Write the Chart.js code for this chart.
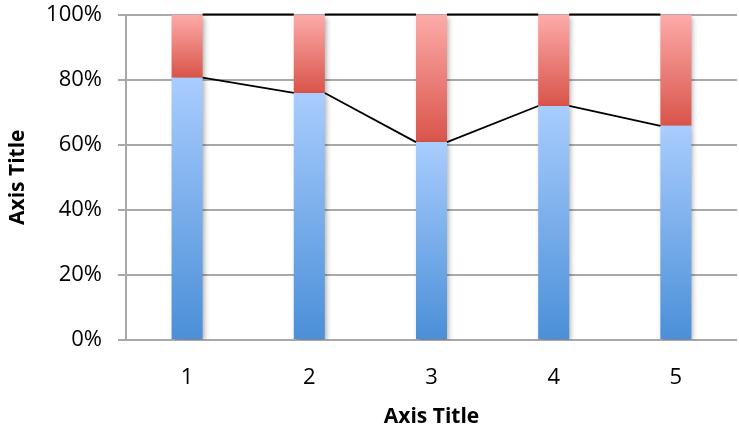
<!DOCTYPE html>
<html>
<head>
<meta charset="utf-8">
<script src="https://cdn.jsdelivr.net/npm/chart.js@4/dist/chart.umd.min.js"></script>
<style>
  html, body { margin: 0; padding: 0; background: #fff; }
  #wrap { width: 739px; height: 429px; }
</style>
</head>
<body>
<div id="wrap"><canvas id="c" width="739" height="429"></canvas></div>
<script>
// Categories and the two stacked shares (percent of each column)
const categories = ['1', '2', '3', '4', '5'];
const blueShare = [80.6, 75.9, 60.8, 71.9, 65.8];
const redShare  = [19.4, 24.1, 39.2, 28.1, 34.2];
const yTicks = [0, 20, 40, 60, 80, 100];

const FONT = "'Open Sans', 'Liberation Sans', sans-serif";

function verticalGradient(ctx, top, bottom, cTop, cBottom) {
  const g = ctx.chart.ctx.createLinearGradient(0, top, 0, bottom);
  g.addColorStop(0, cTop);
  g.addColorStop(1, cBottom);
  return g;
}

function barFill(cTop, cBottom, lowerSeries) {
  return function (ctx) {
    const chart = ctx.chart;
    if (!chart.chartArea || ctx.dataIndex === undefined) return cBottom;
    const y = chart.scales.y;
    const i = ctx.dataIndex;
    const base = lowerSeries ? 0 : blueShare[i];
    const top = lowerSeries ? blueShare[i] : blueShare[i] + redShare[i];
    return verticalGradient(ctx, y.getPixelForValue(top), y.getPixelForValue(base), cTop, cBottom);
  };
}

// Soft drop shadow behind every column
const barShadow = {
  id: 'barShadow',
  beforeDatasetDraw(chart) {
    const c = chart.ctx;
    c.save();
    c.shadowColor = 'rgba(0,0,0,0.32)';
    c.shadowBlur = 5;
    c.shadowOffsetX = 2;
    c.shadowOffsetY = 2;
  },
  afterDatasetDraw(chart) {
    chart.ctx.restore();
  }
};

// Series lines joining the tops of neighbouring column segments
const seriesLines = {
  id: 'seriesLines',
  afterDatasetsDraw(chart) {
    const c = chart.ctx;
    c.save();
    c.strokeStyle = '#000';
    c.lineCap = 'butt';
    [0, 1].forEach(ds => {
      const bars = chart.getDatasetMeta(ds).data;
      c.lineWidth = ds === 1 ? 2.2 : 1.8;
      for (let i = 0; i < bars.length - 1; i++) {
        const a = bars[i], b = bars[i + 1];
        c.beginPath();
        c.moveTo(a.x + a.width / 2, a.y);
        c.lineTo(b.x - b.width / 2, b.y);
        c.stroke();
      }
    });
    c.restore();
  }
};

new Chart(document.getElementById('c'), {
  type: 'bar',
  data: {
    labels: categories,
    datasets: [
      {
        label: 'Series 1',
        data: blueShare,
        backgroundColor: barFill('#a9cdfe', '#4a8fd8', true),
        borderWidth: 0,
        barPercentage: 0.254,
        categoryPercentage: 1
      },
      {
        label: 'Series 2',
        data: redShare,
        backgroundColor: barFill('#fdaba9', '#d9544a', false),
        borderWidth: 0,
        barPercentage: 0.254,
        categoryPercentage: 1
      }
    ]
  },
  options: {
    responsive: false,
    animation: false,
    devicePixelRatio: 1,
    layout: { padding: { left: 0, right: 2, top: 14.5, bottom: 0 } },
    plugins: {
      legend: { display: false },
      tooltip: { enabled: false }
    },
    scales: {
      x: {
        stacked: true,
        grid: { display: false },
        border: { display: false },
        ticks: {
          color: '#000',
          font: { family: FONT, size: 22 },
          padding: 17
        },
        title: {
          display: true,
          text: 'Axis Title',
          color: '#000',
          font: { family: FONT, size: 21, weight: 'bold', lineHeight: 1.1 },
          padding: { top: 4, bottom: 0 }
        },
        afterFit(s) { s.height = 89; s.paddingLeft = 0; s.paddingRight = 0; }
      },
      y: {
        stacked: true,
        min: 0,
        max: 100,
        afterBuildTicks(s) { s.ticks = yTicks.map(v => ({ value: v })); },
        grid: {
          color: '#a9a9a9',
          lineWidth: 2,
          tickLength: 8,
          drawTicks: true
        },
        border: { display: true, color: '#a9a9a9', width: 2 },
        ticks: {
          color: '#000',
          font: { family: FONT, size: 22 },
          padding: 16,
          callback: v => v + '%'
        },
        title: {
          display: true,
          text: 'Axis Title',
          color: '#000',
          font: { family: FONT, size: 21, weight: 'bold' },
          padding: { top: 5, bottom: 0 }
        },
        afterFit(s) { s.width = 126; s.paddingTop = 0; s.paddingBottom = 0; }
      }
    }
  },
  plugins: [barShadow, seriesLines]
});
</script>
</body>
</html>
